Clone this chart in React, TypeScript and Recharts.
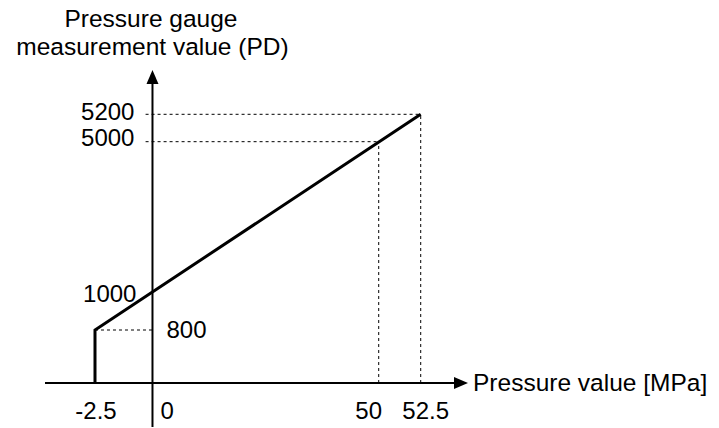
import React from 'react';
import { LineChart, Line, XAxis, YAxis, ReferenceLine, ReferenceDot } from 'recharts';

// gauge reading vs. pressure
const LINE_X = [-2.5, -2.5, 52.5];
const LINE_Y = [0, 800, 5200];

const X_TICKS = [-2.5, 0, 50, 52.5];
const X_TICK_LABELS = ['-2.5', '0', '50', '52.5'];
const Y_TICKS = [800, 1000, 5000, 5200];
const Y_TICK_LABELS = ['800', '1000', '5000', '5200'];

const X_TITLE = 'Pressure value [MPa]';
const Y_TITLE = ['Pressure gauge', 'measurement value (PD)'];

// dotted guides
const H_GUIDES = [
  { y: 800, from: -2.5, to: 0 },
  { y: 5000, from: -0.3, to: 50 },
  { y: 5200, from: -0.3, to: 52.5 },
];
const V_GUIDES = [
  { x: 50, from: 0, to: 5000 },
  { x: 52.5, from: 0, to: 5200 },
];

// the figure is a sketch, not to scale: piecewise axes
const X_KNOTS = [-12.5, -2.5, 0, 50, 52.5, 60];
const X_FRACS = [0, 0.1182, 0.2541, 0.7889, 0.8882, 1];
const Y_KNOTS = [-1000, 0, 800, 1000, 5000, 5200, 6000];
const Y_FRACS = [0, 0.1232, 0.2717, 0.379, 0.7992, 0.8759, 1];

const FONT = '"Liberation Sans", Arial, sans-serif';
const INK = '#000';
const TICK_SIZE = 24;
const TITLE_SIZE = 24.5;

// label offsets from their anchor point, px
const X_LABEL_POS: Record<string, { dx: number; anchor: string }> = {
  '-2.5': { dx: 1, anchor: 'middle' },
  '0': { dx: 8, anchor: 'start' },
  '50': { dx: -10, anchor: 'middle' },
  '52.5': { dx: 5, anchor: 'middle' },
};
const Y_LABEL_POS: Record<string, { dx: number; dy: number; anchor: string }> = {
  '800': { dx: 14, dy: 8, anchor: 'start' },
  '1000': { dx: -16, dy: 10, anchor: 'end' },
  '5000': { dx: -18, dy: 4, anchor: 'end' },
  '5200': { dx: -18, dy: 6, anchor: 'end' },
};

function piecewise(knots: number[], fracs: number[]): any {
  let dom = [knots[0], knots[knots.length - 1]];
  let rng = [0, 1];
  const scale: any = (v: number) => {
    let i = 0;
    while (i < knots.length - 2 && v > knots[i + 1]) i++;
    const t = (v - knots[i]) / (knots[i + 1] - knots[i]);
    const f = fracs[i] + t * (fracs[i + 1] - fracs[i]);
    return rng[0] + f * (rng[1] - rng[0]);
  };
  scale.domain = (d?: number[]) => {
    if (d === undefined) return dom.slice();
    dom = d.slice();
    return scale;
  };
  scale.range = (r?: number[]) => {
    if (r === undefined) return rng.slice();
    rng = r.slice();
    return scale;
  };
  scale.copy = () => piecewise(knots, fracs).domain(dom).range(rng);
  scale.ticks = () => knots.slice();
  scale.invert = (px: number) => {
    const f = (px - rng[0]) / (rng[1] - rng[0]);
    let i = 0;
    while (i < fracs.length - 2 && f > fracs[i + 1]) i++;
    const t = (f - fracs[i]) / (fracs[i + 1] - fracs[i]);
    return knots[i] + t * (knots[i + 1] - knots[i]);
  };
  return scale;
}

const xScale = piecewise(X_KNOTS, X_FRACS);
const yScale = piecewise(Y_KNOTS, Y_FRACS);

const chartData = LINE_X.map((x, i) => ({ x, y: LINE_Y[i] }));

const ARROW_L = 14;
const ARROW_W = 6;

const rightArrow = (p: any) => {
  const { x1, y1, x2, y2 } = p;
  return (
    <g>
      <line x1={x1} y1={y1} x2={x2 - ARROW_L} y2={y2} stroke={INK} strokeWidth={2} />
      <polygon points={`${x2},${y2} ${x2 - ARROW_L},${y2 - ARROW_W} ${x2 - ARROW_L},${y2 + ARROW_W}`} fill={INK} />
    </g>
  );
};

const upArrow = (p: any) => {
  const { x1, y1, x2, y2 } = p;
  return (
    <g>
      <line x1={x1} y1={y1} x2={x2} y2={y2 + ARROW_L} stroke={INK} strokeWidth={2} />
      <polygon points={`${x2},${y2} ${x2 - ARROW_W},${y2 + ARROW_L} ${x2 + ARROW_W},${y2 + ARROW_L}`} fill={INK} />
    </g>
  );
};

const textAt = (text: string, dx: number, dy: number, anchor: string, size: number) => (p: any) => (
  <text
    x={p.cx + dx}
    y={p.cy + dy}
    textAnchor={anchor as any}
    fontFamily={FONT}
    fontSize={size}
    fill={INK}
  >
    {text}
  </text>
);

const App: React.FC = () => {
  return (
    <div style={{ width: 719, height: 428, background: '#fff' }}>
      <style>{'body{margin:0}'}</style>
      <LineChart
        width={719}
        height={428}
        data={chartData}
        margin={{ top: 70, right: 251, bottom: 1, left: 45 }}
      >
        <XAxis
          dataKey="x"
          type="number"
          scale={xScale}
          domain={[X_KNOTS[0], X_KNOTS[X_KNOTS.length - 1]]}
          allowDataOverflow
          hide
        />
        <YAxis
          type="number"
          scale={yScale}
          domain={[Y_KNOTS[0], Y_KNOTS[Y_KNOTS.length - 1]]}
          allowDataOverflow
          hide
        />

        {H_GUIDES.map((g) => (
          <ReferenceLine
            key={`h${g.y}`}
            segment={[{ x: g.from, y: g.y }, { x: g.to, y: g.y }]}
            stroke={INK}
            strokeWidth={1}
            strokeDasharray="3 3"
            ifOverflow="visible"
          />
        ))}
        {V_GUIDES.map((g) => (
          <ReferenceLine
            key={`v${g.x}`}
            segment={[{ x: g.x, y: g.from }, { x: g.x, y: g.to }]}
            stroke={INK}
            strokeWidth={1}
            strokeDasharray="3 3"
            ifOverflow="visible"
          />
        ))}

        <ReferenceLine
          segment={[{ x: X_KNOTS[0], y: 0 }, { x: X_KNOTS[X_KNOTS.length - 1], y: 0 }]}
          shape={rightArrow}
          ifOverflow="visible"
        />
        <ReferenceLine
          segment={[{ x: 0, y: Y_KNOTS[0] }, { x: 0, y: Y_KNOTS[Y_KNOTS.length - 1] }]}
          shape={upArrow}
          ifOverflow="visible"
        />

        <Line
          dataKey="y"
          type="linear"
          stroke={INK}
          strokeWidth={3}
          dot={false}
          activeDot={false}
          isAnimationActive={false}
        />

        {X_TICKS.map((v, i) => {
          const lab = X_TICK_LABELS[i];
          const pos = X_LABEL_POS[lab];
          return (
            <ReferenceDot
              key={`xt${v}`}
              x={v}
              y={0}
              r={0}
              ifOverflow="visible"
              shape={textAt(lab, pos.dx, 36, pos.anchor, TICK_SIZE)}
            />
          );
        })}
        {Y_TICKS.map((v, i) => {
          const lab = Y_TICK_LABELS[i];
          const pos = Y_LABEL_POS[lab];
          return (
            <ReferenceDot
              key={`yt${v}`}
              x={0}
              y={v}
              r={0}
              ifOverflow="visible"
              shape={textAt(lab, pos.dx, pos.dy, pos.anchor, TICK_SIZE)}
            />
          );
        })}

        <ReferenceDot
          x={X_KNOTS[X_KNOTS.length - 1]}
          y={0}
          r={0}
          ifOverflow="visible"
          shape={textAt(X_TITLE, 5, 8, 'start', TITLE_SIZE)}
        />
        <ReferenceDot
          x={0}
          y={Y_KNOTS[Y_KNOTS.length - 1]}
          r={0}
          ifOverflow="visible"
          shape={textAt(Y_TITLE[0], -1.5, -43, 'middle', TITLE_SIZE)}
        />
        <ReferenceDot
          x={0}
          y={Y_KNOTS[Y_KNOTS.length - 1]}
          r={0}
          ifOverflow="visible"
          shape={textAt(Y_TITLE[1], 0, -15, 'middle', TITLE_SIZE)}
        />
      </LineChart>
    </div>
  );
};

export default App;
